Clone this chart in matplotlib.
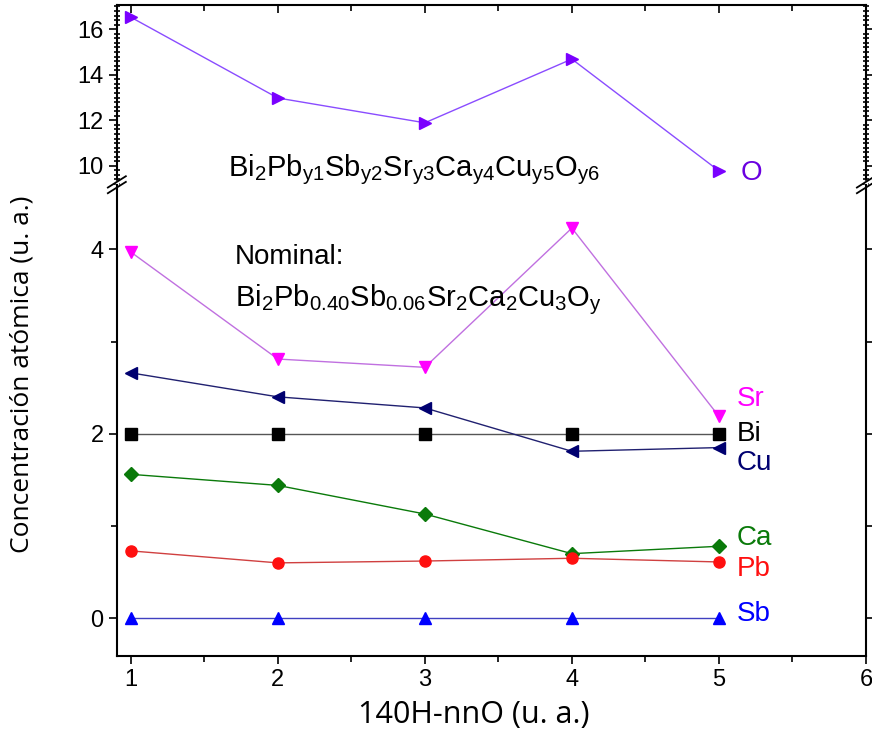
import numpy as np
import matplotlib
matplotlib.use("Agg")
import matplotlib.pyplot as plt
from matplotlib.ticker import MultipleLocator

plt.rcParams['font.family'] = ['Liberation Sans', 'DejaVu Sans']
plt.rcParams['mathtext.default'] = 'regular'

# datos
x = [1, 2, 3, 4, 5]
o_vals = [16.53, 12.98, 11.89, 14.69, 9.78]
sr_vals = [3.97, 2.81, 2.72, 4.23, 2.19]
bi_vals = [2.0, 2.0, 2.0, 2.0, 2.0]
cu_vals = [2.66, 2.40, 2.28, 1.81, 1.85]
ca_vals = [1.56, 1.44, 1.13, 0.70, 0.78]
pb_vals = [0.73, 0.60, 0.62, 0.65, 0.61]
sb_vals = [0.0, 0.0, 0.0, 0.0, 0.0]

fig = plt.figure(figsize=(8.72, 7.33), dpi=100)
ax_top = fig.add_axes([0.134, 0.748, 0.859, 0.245])
ax_bot = fig.add_axes([0.134, 0.105, 0.859, 0.643])

ms = 8
# panel superior: O
ax_top.plot(x, o_vals, color='#8a4cff', lw=1, marker='>', ms=ms + 1,
            mfc='#7a00ff', mec='#7a00ff')
ax_top.text(5.15, o_vals[4] - 0.1, 'O', color='#6a00e0', fontsize=20, va='center')
ax_top.text(1.66, 9.85,
            r'Bi$_2$Pb$_{y1}$Sb$_{y2}$Sr$_{y3}$Ca$_{y4}$Cu$_{y5}$O$_{y6}$',
            fontsize=21, va='center')

# panel inferior
series = [
    (sr_vals, 'v', '#ff00ff', '#c070e0', 'Sr', 2.38),
    (bi_vals, 's', '#000000', '#555555', 'Bi', 2.0),
    (cu_vals, '<', '#000070', '#202070', 'Cu', 1.68),
    (ca_vals, 'D', '#0a7a0a', '#0a7a0a', 'Ca', 0.87),
    (pb_vals, 'o', '#ff1010', '#d04040', 'Pb', 0.53),
    (sb_vals, '^', '#0000ff', '#4040c0', 'Sb', 0.05),
]
for vals, mk, mcol, lcol, name, ylab in series:
    size = ms - 1 if mk == 'D' else ms
    ax_bot.plot(x, vals, color=lcol, lw=1, marker=mk, ms=size,
                mfc=mcol, mec=mcol)
    ax_bot.text(5.12, ylab, name, color=mcol, fontsize=20, va='center')

ax_bot.text(1.71, 3.92, 'Nominal:', fontsize=20, va='center')
ax_bot.text(1.71, 3.45,
            r'Bi$_2$Pb$_{0.40}$Sb$_{0.06}$Sr$_2$Ca$_2$Cu$_3$O$_y$',
            fontsize=21, va='center')

for ax in (ax_top, ax_bot):
    ax.set_xlim(0.905, 6.0)
    ax.tick_params(labelsize=17, width=1.2, length=6, right=True, top=True)
    ax.tick_params(which='minor', width=1.2, length=4, right=True, top=True)
    for s in ax.spines.values():
        s.set_linewidth(1.5)

ax_top.set_ylim(9.17, 17.06)
ax_top.yaxis.set_major_locator(MultipleLocator(2))
ax_top.yaxis.set_minor_locator(MultipleLocator(0.2))
ax_top.spines['bottom'].set_visible(False)
ax_top.tick_params(axis='x', which='both', bottom=False, labelbottom=False,
                   direction='in')
ax_top.xaxis.set_minor_locator(MultipleLocator(0.5))
ax_top.tick_params(axis='y', which='minor', direction='inout', length=5)
ax_top.tick_params(axis='y', which='minor', right=True)

ax_bot.set_ylim(-0.41, 4.70)
ax_bot.yaxis.set_major_locator(MultipleLocator(2))
ax_bot.yaxis.set_minor_locator(MultipleLocator(1))
ax_bot.spines['top'].set_visible(False)
ax_bot.xaxis.set_major_locator(MultipleLocator(1))
ax_bot.xaxis.set_minor_locator(MultipleLocator(0.5))
ax_bot.tick_params(axis='x', which='both', top=False)
ax_bot.tick_params(axis='y', which='both', direction='out')
ax_bot.tick_params(axis='y', which='minor', right=True)

# marcas de corte
for xa in (0.0, 1.0):
    for dy in (-0.006, 0.006):
        ax_bot.plot([xa - 0.012, xa + 0.012], [1.0 + dy - 0.012, 1.0 + dy + 0.012],
                    transform=ax_bot.transAxes, color='k', lw=1.3, clip_on=False)
    ax_bot.plot([xa, xa], [0.994, 1.006], transform=ax_bot.transAxes,
                color='white', lw=2.5, clip_on=False, zorder=0.5)

fig.text(0.025, 0.49, 'Concentración atómica (u. a.)', rotation=90,
         fontsize=19, va='center', ha='center', style='normal',
         family=['Open Sans', 'DejaVu Sans'])
fig.text(0.543, 0.024, '140H-nnO (u. a.)', fontsize=22, ha='center',
         va='center', style='normal', family=['Open Sans', 'DejaVu Sans'])

fig.savefig('out.png', dpi=100)
